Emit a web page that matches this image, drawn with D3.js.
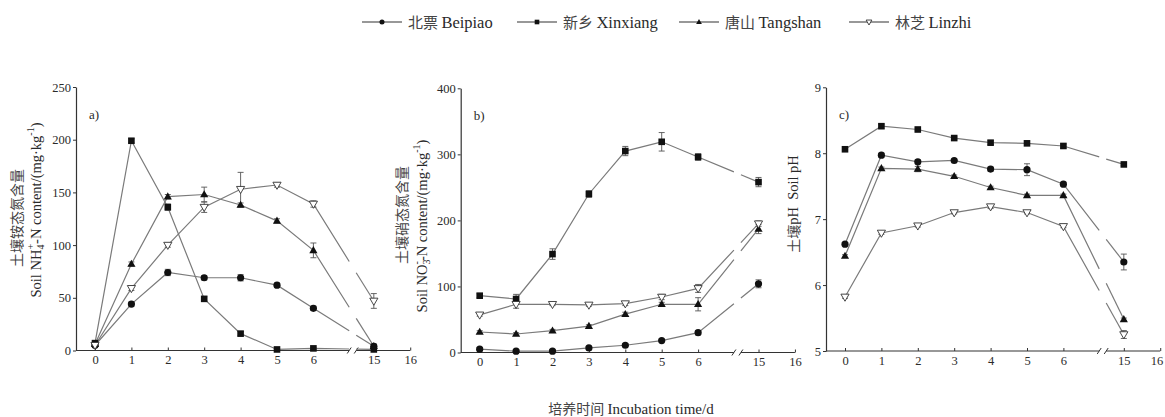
<!DOCTYPE html>
<html><head><meta charset="utf-8">
<script src="https://cdn.jsdelivr.net/npm/d3@7"></script>
<style>
body{margin:0;background:#fff;}
svg{display:block;font-family:"Liberation Serif","Noto Sans CJK SC",serif;}
</style></head>
<body>
<svg id="chart" width="1165" height="417"></svg>
<script>
// ---------- data ----------
const days = [0, 1, 2, 3, 4, 5, 6, 15];
const xTicks = [0, 1, 2, 3, 4, 5, 6, 15, 16];
const seriesNames = ["北票 Beipiao", "新乡 Xinxiang", "唐山 Tangshan", "林芝 Linzhi"];

// a) NH4+-N
const nh4Beipiao  = [5, 44, 74, 69, 69, 62, 40, 4];
const nh4Xinxiang = [7, 199, 136, 49, 16, 1, 2, 1];
const nh4Tangshan = [6, 82, 146, 148, 138, 123, 95, 4];
const nh4Linzhi   = [5, 59, 100, 136, 153, 157, 139, 47];
const nh4BeipiaoErr  = [2, 2, 3, 2, 3, 2, 2, 2];
const nh4XinxiangErr = [2, 2, 3, 2, 2, 1, 1, 1];
const nh4TangshanErr = [2, 2, 2, 7, 2, 2, 7, 2];
const nh4LinzhiErr   = [2, 2, 2, 5, 16, 2, 3, 7];
const nh4Ticks = [0, 50, 100, 150, 200, 250];

// b) NO3--N
const no3Beipiao  = [5, 2, 2, 7, 11, 18, 30, 104];
const no3Xinxiang = [86, 81, 149, 240, 305, 319, 296, 258];
const no3Tangshan = [31, 28, 33, 40, 58, 73, 73, 187];
const no3Linzhi   = [57, 73, 73, 72, 74, 84, 97, 195];
const no3BeipiaoErr  = [2, 2, 2, 2, 2, 2, 3, 6];
const no3XinxiangErr = [3, 7, 8, 5, 7, 14, 5, 7];
const no3TangshanErr = [2, 2, 2, 2, 3, 3, 10, 7];
const no3LinzhiErr   = [2, 6, 2, 2, 3, 4, 6, 4];
const no3Ticks = [0, 100, 200, 300, 400];

// c) pH
const phBeipiao  = [6.62, 7.97, 7.87, 7.89, 7.76, 7.75, 7.53, 6.35];
const phXinxiang = [8.06, 8.41, 8.36, 8.23, 8.16, 8.15, 8.11, 7.83];
const phTangshan = [6.44, 7.77, 7.76, 7.65, 7.48, 7.36, 7.36, 5.48];
const phLinzhi   = [5.82, 6.79, 6.90, 7.10, 7.19, 7.10, 6.89, 5.25];
const phBeipiaoErr  = [0.02, 0.03, 0.03, 0.02, 0.03, 0.09, 0.03, 0.12];
const phXinxiangErr = [0.02, 0.03, 0.02, 0.02, 0.03, 0.02, 0.03, 0.02];
const phTangshanErr = [0.02, 0.02, 0.04, 0.02, 0.02, 0.02, 0.02, 0.02];
const phLinzhiErr   = [0.02, 0.02, 0.02, 0.02, 0.03, 0.02, 0.02, 0.06];
const phTicks = [5, 6, 7, 8, 9];

// ---------- layout ----------
const svg = d3.select("#chart");
const markerTypes = ["circle", "square", "triangle", "tri-open"];
const lineColor = "#7a7a7a", axisColor = "#333", textColor = "#2a2a2a";

function drawMarker(g, type, cx, cy, s) {
  if (type === "circle") {
    g.append("circle").attr("cx", cx).attr("cy", cy).attr("r", 3.6 * s).attr("fill", "#111");
  } else if (type === "square") {
    g.append("rect").attr("x", cx - 3.3 * s).attr("y", cy - 3.3 * s).attr("width", 6.6 * s).attr("height", 6.6 * s).attr("fill", "#111");
  } else if (type === "triangle") {
    const r = 4.3 * s;
    g.append("path").attr("d", `M${cx},${cy - r}L${cx + r * 0.95},${cy + r * 0.65}L${cx - r * 0.95},${cy + r * 0.65}Z`).attr("fill", "#111");
  } else {
    const r = 4.3 * s;
    g.append("path").attr("d", `M${cx},${cy + r}L${cx + r * 0.95},${cy - r * 0.65}L${cx - r * 0.95},${cy - r * 0.65}Z`)
      .attr("fill", "#fff").attr("stroke", "#333").attr("stroke-width", 0.9);
  }
}

const panels = [
  { left: 76, top: 87, bottom: 350.5, domain: [0, 250], ticks: nh4Ticks, label: "a)",
    series: [nh4Beipiao, nh4Xinxiang, nh4Tangshan, nh4Linzhi],
    errs: [nh4BeipiaoErr, nh4XinxiangErr, nh4TangshanErr, nh4LinzhiErr],
    titleCn: "土壤铵态氮含量", titleEn: "nh4", cnX: -58, enX: -38, cnY: 218, enY: 210 },
  { left: 460.7, top: 88.3, bottom: 352.5, domain: [0, 400], ticks: no3Ticks, label: "b)",
    series: [no3Beipiao, no3Xinxiang, no3Tangshan, no3Linzhi],
    errs: [no3BeipiaoErr, no3XinxiangErr, no3TangshanErr, no3LinzhiErr],
    titleCn: "土壤硝态氮含量", titleEn: "no3", cnX: -57, enX: -37, cnY: 215, enY: 226 },
  { left: 826, top: 87.3, bottom: 351, domain: [5, 9], ticks: phTicks, label: "c)",
    series: [phBeipiao, phXinxiang, phTangshan, phLinzhi],
    errs: [phBeipiaoErr, phXinxiangErr, phTangshanErr, phLinzhiErr],
    titleCn: null, titleEn: "ph", cnX: 0, enX: -31, cnY: 0, enY: 204 }
];

panels.forEach((p, pi) => {
  const unit = 36.4;
  const x0 = p.left + 19;
  const x = d3.scaleLinear().domain([0, 6, 15, 16])
    .range([x0, x0 + 6 * unit, x0 + 7.66 * unit, x0 + 8.66 * unit]);
  const brk = x0 + 7.08 * unit;
  const gap = 3.5;
  const y = d3.scaleLinear().domain(p.domain).range([p.bottom, p.top]);
  const g = svg.append("g");

  // x axis
  const xa = g.append("g").attr("transform", `translate(0,${p.bottom})`)
    .call(d3.axisBottom(x).tickValues(xTicks).tickFormat(d3.format("d")).tickSizeInner(-3).tickSizeOuter(0).tickPadding(5));
  xa.select(".domain").remove();
  xa.selectAll(".tick line").attr("stroke", axisColor).attr("stroke-width", 1);
  xa.selectAll("text").attr("fill", textColor).attr("font-size", 12.5)
    .attr("font-family", "Liberation Serif");
  if (pi === 2) {
    xa.selectAll(".tick").filter(d => d === 16).select("text").attr("text-anchor", "end").attr("dx", 2.5);
  }
  g.append("line").attr("x1", p.left).attr("x2", brk - gap).attr("y1", p.bottom).attr("y2", p.bottom)
    .attr("stroke", axisColor).attr("stroke-width", 1.2);
  g.append("line").attr("x1", brk + gap).attr("x2", x(16)).attr("y1", p.bottom).attr("y2", p.bottom)
    .attr("stroke", axisColor).attr("stroke-width", 1.2);
  [brk - gap, brk + gap].forEach(bx => {
    g.append("line").attr("x1", bx - 2).attr("y1", p.bottom + 3).attr("x2", bx + 2).attr("y2", p.bottom - 3)
      .attr("stroke", axisColor).attr("stroke-width", 1);
  });

  // y axis
  const ya = g.append("g").attr("transform", `translate(${p.left},0)`)
    .call(d3.axisLeft(y).tickValues(p.ticks).tickFormat(d3.format("d")).tickSizeInner(3).tickSizeOuter(0).tickPadding(2));
  ya.select(".domain").attr("stroke", axisColor).attr("stroke-width", 1.2);
  ya.selectAll(".tick line").attr("stroke", axisColor).attr("stroke-width", 1);
  ya.selectAll("text").attr("fill", textColor).attr("font-size", 12.5)
    .attr("font-family", "Liberation Serif");

  // panel label
  g.append("text").attr("x", p.left + 13).attr("y", p.top + 32).text(p.label)
    .attr("font-size", 13).attr("fill", textColor);

  // y titles
  if (p.titleCn) {
    g.append("text").attr("transform", `translate(${p.left + p.cnX},${p.cnY}) rotate(-90)`)
      .attr("text-anchor", "middle").attr("dominant-baseline", "middle")
      .attr("font-family", "Noto Sans CJK SC").attr("font-size", 14).attr("fill", "#444").text(p.titleCn);
  }
  const te = g.append("text").attr("transform", `translate(${p.left + p.enX},${p.enY}) rotate(-90)`)
    .attr("text-anchor", "middle").attr("dominant-baseline", "middle")
    .attr("font-size", 14.5).attr("fill", textColor);
  if (p.titleEn === "nh4") {
    te.append("tspan").text("Soil NH");
    te.append("tspan").text("4").attr("font-size", 10).attr("dy", 4);
    te.append("tspan").text("+").attr("font-size", 10).attr("dy", -10).attr("dx", -5);
    te.append("tspan").text("-N content/(mg·kg").attr("dy", 6);
    te.append("tspan").text("-1").attr("font-size", 10).attr("dy", -6);
    te.append("tspan").text(")").attr("dy", 6);
  } else if (p.titleEn === "no3") {
    te.append("tspan").text("Soil NO");
    te.append("tspan").text("3").attr("font-size", 10).attr("dy", 4);
    te.append("tspan").text("-").attr("font-size", 10).attr("dy", -10).attr("dx", -5);
    te.append("tspan").text("-N content/(mg·kg").attr("dy", 6);
    te.append("tspan").text("-1").attr("font-size", 10).attr("dy", -6);
    te.append("tspan").text(")").attr("dy", 6);
  } else {
    te.append("tspan").text("土壤").attr("font-family", "Noto Sans CJK SC").attr("font-size", 14).attr("fill", "#444");
    te.append("tspan").text("pH\u00a0\u00a0Soil pH");
  }

  // lines
  p.series.forEach(vals => {
    const pts = days.map((d, i) => [x(d), y(vals[i])]);
    const segs = [];
    let cur = [pts[0]];
    for (let i = 1; i < pts.length; i++) {
      const a = pts[i - 1], b = pts[i];
      if (a[0] < brk && b[0] > brk) {
        const t1 = (brk - gap - a[0]) / (b[0] - a[0]);
        const t2 = (brk + gap - a[0]) / (b[0] - a[0]);
        cur.push([brk - gap, a[1] + t1 * (b[1] - a[1])]);
        segs.push(cur);
        cur = [[brk + gap, a[1] + t2 * (b[1] - a[1])], b];
      } else cur.push(b);
    }
    segs.push(cur);
    segs.forEach(s => g.append("path").attr("d", d3.line()(s)).attr("fill", "none")
      .attr("stroke", lineColor).attr("stroke-width", 1.2));
  });

  // error bars
  p.series.forEach((vals, si) => {
    vals.forEach((v, i) => {
      const e = p.errs[si][i];
      const cx = x(days[i]);
      const y1 = y(v + e), y2 = y(v - e);
      g.append("line").attr("x1", cx).attr("x2", cx).attr("y1", y1).attr("y2", y2).attr("stroke", "#555").attr("stroke-width", 0.9);
      [y1, y2].forEach(yy => g.append("line").attr("x1", cx - 3).attr("x2", cx + 3).attr("y1", yy).attr("y2", yy)
        .attr("stroke", "#555").attr("stroke-width", 0.9));
    });
  });

  // markers
  p.series.forEach((vals, si) => {
    vals.forEach((v, i) => drawMarker(g, markerTypes[si], x(days[i]), y(v), 1));
  });
});

// x title
svg.append("text").attr("x", 631).attr("y", 414).attr("text-anchor", "middle")
  .attr("font-size", 15).attr("fill", textColor)
  .call(t => {
    t.append("tspan").text("培养时间 ").attr("font-family", "Noto Sans CJK SC").attr("font-size", 14).attr("fill", "#444");
    t.append("tspan").text("Incubation time/d");
  });

// legend
const legendX = [362, 517, 679, 849];
const lg = svg.append("g");
seriesNames.forEach((name, i) => {
  const lx = legendX[i], ly = 22;
  lg.append("line").attr("x1", lx).attr("x2", lx + 40).attr("y1", ly).attr("y2", ly)
    .attr("stroke", "#333").attr("stroke-width", 1.2);
  drawMarker(lg, markerTypes[i], lx + 20, ly, 0.7);
  const parts = name.split(" ");
  const t = lg.append("text").attr("x", lx + 46).attr("y", ly + 6).attr("font-size", 16.5).attr("fill", textColor);
  t.append("tspan").text(parts[0] + " ").attr("font-family", "Noto Sans CJK SC").attr("font-size", 15).attr("fill", "#444");
  t.append("tspan").text(parts[1]);
});
</script>
</body></html>
